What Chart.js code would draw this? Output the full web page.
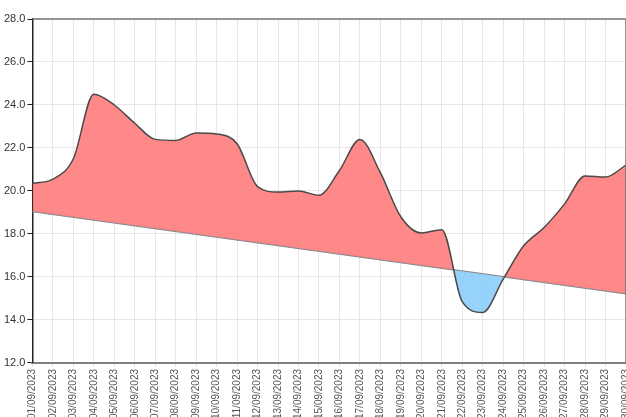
<!DOCTYPE html>
<html>
<head>
<meta charset="utf-8">
<script src="https://cdn.jsdelivr.net/npm/chart.js@4"></script>
<style>
  html, body { margin: 0; padding: 0; overflow: hidden; background: #fff; }
  #caixa { position: relative; width: 640px; height: 421px; }
</style>
</head>
<body>
<div id="caixa"><canvas id="grafico"></canvas></div>
<script>
const dias = ['01/09/2023','02/09/2023','03/09/2023','04/09/2023','05/09/2023','06/09/2023',
  '07/09/2023','08/09/2023','09/09/2023','10/09/2023','11/09/2023','12/09/2023','13/09/2023',
  '14/09/2023','15/09/2023','16/09/2023','17/09/2023','18/09/2023','19/09/2023','20/09/2023',
  '21/09/2023','22/09/2023','23/09/2023','24/09/2023','25/09/2023','26/09/2023','27/09/2023',
  '28/09/2023','29/09/2023','30/09/2023'];

const valores = [20.35, 20.55, 21.5, 24.5, 24.0, 23.15, 22.4, 22.35, 22.7, 22.65,
  22.2, 20.2, 19.95, 20.0, 19.8, 20.95, 22.4, 20.85, 18.8, 18.05,
  18.2, 14.85, 14.35, 15.9, 17.45, 18.3, 19.4, 20.7, 20.65, 21.2];

// linha de referencia: so o inicio e o fim
const referenciaInicio = 19.05;
const referenciaFim = 15.22;

const ticksY = [12, 14, 16, 18, 20, 22, 24, 26, 28];

// moldura do grafico (topo e direita)
const moldura = {
  id: 'moldura',
  afterDatasetsDraw(chart) {
    const { ctx, chartArea: a } = chart;
    ctx.save();
    ctx.strokeStyle = '#777';
    ctx.lineWidth = 1.5;
    ctx.beginPath();
    ctx.moveTo(a.left, a.top);
    ctx.lineTo(a.right, a.top);
    ctx.lineTo(a.right, a.bottom);
    ctx.stroke();
    ctx.restore();
  }
};

const grafico = new Chart(document.getElementById('grafico'), {
  type: 'line',
  data: {
    labels: dias,
    datasets: [{
      label: 'valor',
      data: valores,
      borderColor: '#4a4a4a',
      borderWidth: 1.5,
      pointRadius: 0,
      cubicInterpolationMode: 'monotone',
      fill: { target: 1, above: 'rgba(255,120,120,0.88)', below: 'rgba(140,205,250,0.9)' }
    }, {
      label: 'referencia',
      data: [{ x: dias[0], y: referenciaInicio }, { x: dias[dias.length - 1], y: referenciaFim }],
      borderColor: '#808080',
      borderWidth: 1.5,
      pointRadius: 0,
      fill: false
    }]
  },
  options: {
    responsive: true,
    maintainAspectRatio: false,
    animation: false,
    layout: { padding: { top: 19, left: 2, right: 0, bottom: 0 } },
    plugins: { legend: { display: false }, tooltip: { enabled: false } },
    scales: {
      x: {
        offset: false,
        grid: { color: '#e6e6e6', drawTicks: true, tickLength: 4, tickColor: '#e6e6e6' },
        border: { color: '#808080', width: 2 },
        ticks: {
          autoSkip: false,
          minRotation: 90,
          maxRotation: 90,
          padding: 2,
          color: '#555',
          font: { family: 'Liberation Sans', size: 10 }
        }
      },
      y: {
        min: 12,
        max: 28,
        afterBuildTicks: (eixo) => { eixo.ticks = ticksY.map(v => ({ value: v })); },
        grid: { color: '#e6e6e6', tickLength: 5, tickColor: '#222' },
        border: { color: '#222', width: 1.5 },
        ticks: {
          padding: 2,
          color: '#333',
          font: { family: 'Liberation Sans', size: 11 },
          callback: (v) => Number(v).toFixed(1)
        }
      }
    }
  },
  plugins: [moldura]
});
</script>
</body>
</html>
